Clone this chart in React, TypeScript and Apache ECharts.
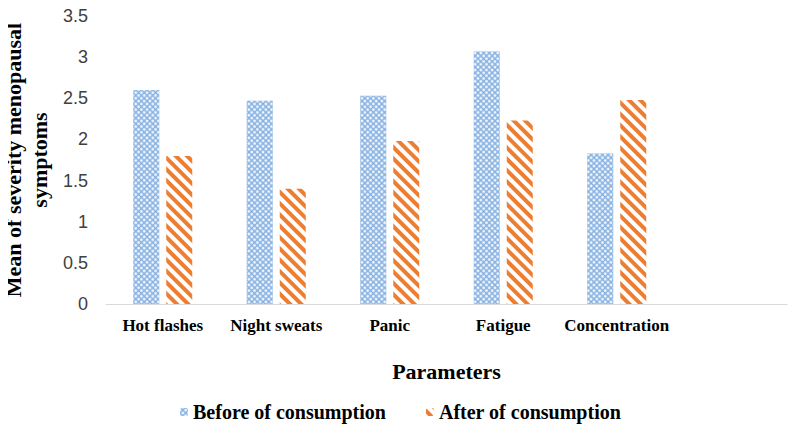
import React, { useEffect, useRef } from "react";
import * as echarts from "echarts";

const categories = ["Hot flashes", "Night sweats", "Panic", "Fatigue", "Concentration", ""];
const beforeValues = [2.6, 2.47, 2.53, 3.07, 1.83, null];
const afterValues = [1.8, 1.4, 1.98, 2.23, 2.48, null];
const yTicks = { min: 0, max: 3.5, interval: 0.5 };
const seriesNames = ["Before of consumption", "After of consumption"];

const serif = "'Liberation Serif', 'Times New Roman', serif";

export default function App() {
  const ref = useRef<HTMLDivElement>(null);
  useEffect(() => {
    if (!ref.current) return;
    const chart = echarts.init(ref.current, null, { renderer: "svg" });
    chart.setOption({
      animation: false,
      backgroundColor: "#fff",
      grid: { left: 106, right: 13, top: 16, bottom: 130, containLabel: false, outerBoundsMode: "none" },
      legend: {
        top: 397,
        left: 175,
        itemWidth: 8,
        itemHeight: 8,
        itemGap: 40,
        textStyle: { fontFamily: serif, fontWeight: "bold", fontSize: 20, color: "#000" },
        data: seriesNames,
      },
      xAxis: {
        type: "category",
        data: categories,
        name: "Parameters",
        nameLocation: "middle",
        nameGap: 56,
        nameTextStyle: { fontFamily: serif, fontWeight: "bold", fontSize: 22, color: "#000" },
        axisLine: { lineStyle: { color: "#D9D9D9", width: 1 } },
        axisTick: { show: false },
        axisLabel: { fontFamily: serif, fontWeight: "bold", fontSize: 17, color: "#000", margin: 13, interval: 0 },
      },
      yAxis: {
        type: "value",
        min: yTicks.min,
        max: yTicks.max,
        interval: yTicks.interval,
        name: "Mean of severity menopausal\nsymptoms",
        nameLocation: "middle",
        nameRotate: 90,
        nameGap: 47,
        nameTextStyle: { fontFamily: serif, fontWeight: "bold", fontSize: 22, color: "#000", lineHeight: 26 },
        axisLine: { show: false },
        axisTick: { show: false },
        splitLine: { show: false },
        axisLabel: { fontFamily: "'Liberation Sans', Arial, sans-serif", fontSize: 18, color: "#404040", margin: 18 },
      },
      series: [
        {
          name: seriesNames[0],
          type: "bar",
          data: beforeValues,
          barWidth: 26,
          barGap: "27%",
          itemStyle: {
            color: "#86B1E2",
            decal: {
              symbol: "circle",
              symbolSize: 0.9,
              color: "#fff",
              dashArrayX: [3, 1],
              dashArrayY: [3, 1],
              rotation: Math.PI / 4,
            },
          },
        },
        {
          name: seriesNames[1],
          type: "bar",
          data: afterValues,
          barWidth: 26,
          itemStyle: {
            color: "#fff",
            decal: {
              symbol: "rect",
              symbolSize: 1,
              color: "#ED7D31",
              dashArrayX: [1, 0],
              dashArrayY: [4, 4],
              rotation: Math.PI / 4,
            },
          },
        },
      ],
    });
    return () => chart.dispose();
  }, []);
  return <div ref={ref} style={{ width: 800, height: 434, margin: "-8px 0 0 -8px" }} />;
}
